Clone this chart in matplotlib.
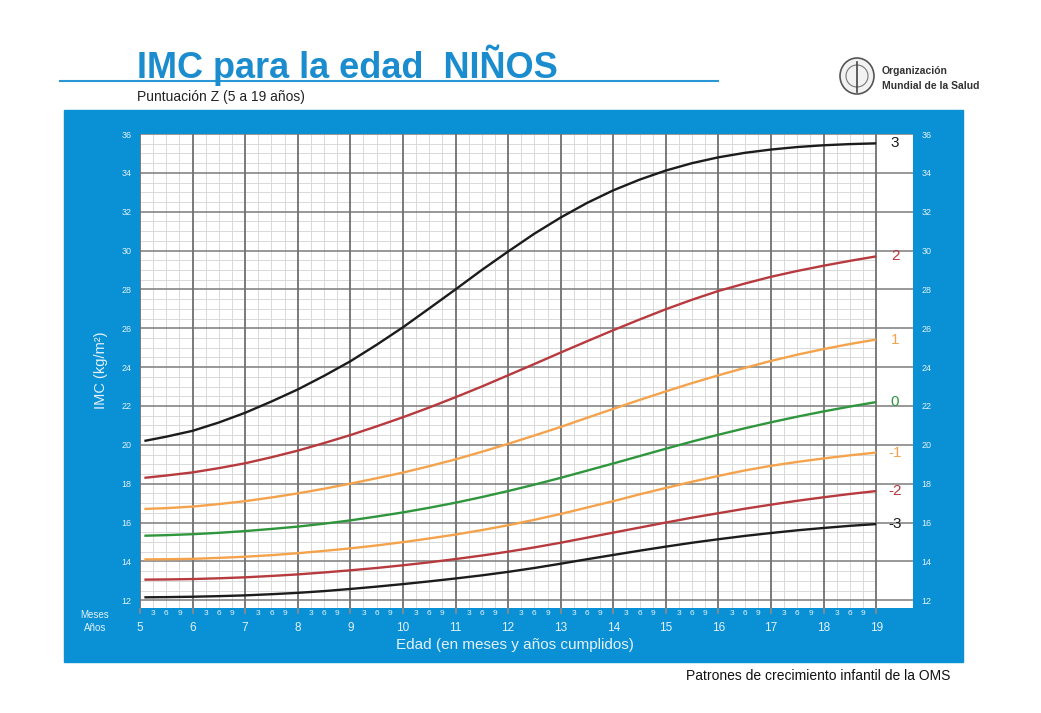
import matplotlib

matplotlib.use("Agg")
import matplotlib.pyplot as plt
import numpy as np
from matplotlib.patches import Rectangle, Ellipse
from matplotlib.lines import Line2D

plt.rcParams["font.family"] = ["Liberation Sans", "DejaVu Sans"]
NARROW = ["Liberation Sans Narrow", "Liberation Sans", "DejaVu Sans"]

# age in years (61 months, then every half year up to 19)
ages = [5 + 1 / 12] + [5.5 + 0.5 * i for i in range(28)]
sd3 = [20.20, 20.42, 20.72, 21.15, 21.65, 22.23, 22.85, 23.55, 24.30, 25.15,
       26.05, 27.02, 28.00, 29.00, 29.95, 30.87, 31.70, 32.45, 33.10, 33.65,
       34.12, 34.50, 34.80, 35.03, 35.20, 35.33, 35.42, 35.48, 35.52]
sd2 = [18.30, 18.42, 18.58, 18.80, 19.05, 19.36, 19.70, 20.09, 20.50, 20.95,
       21.42, 21.92, 22.45, 23.00, 23.58, 24.16, 24.75, 25.33, 25.90, 26.45,
       26.98, 27.47, 27.92, 28.30, 28.65, 28.95, 29.22, 29.47, 29.70]
sd1 = [16.70, 16.74, 16.82, 16.95, 17.10, 17.29, 17.50, 17.74, 18.00, 18.28,
       18.57, 18.90, 19.25, 19.64, 20.05, 20.48, 20.92, 21.39, 21.85, 22.31,
       22.75, 23.18, 23.58, 23.96, 24.32, 24.64, 24.93, 25.19, 25.42]
sd0 = [15.32, 15.35, 15.40, 15.47, 15.56, 15.67, 15.79, 15.94, 16.11, 16.31,
       16.52, 16.76, 17.02, 17.31, 17.62, 17.95, 18.30, 18.67, 19.04, 19.42,
       19.80, 20.17, 20.52, 20.85, 21.16, 21.45, 21.72, 21.97, 22.20]
sd1n = [14.10, 14.11, 14.13, 14.18, 14.24, 14.32, 14.42, 14.54, 14.67, 14.82,
        14.99, 15.18, 15.38, 15.61, 15.86, 16.14, 16.44, 16.77, 17.10, 17.45,
        17.78, 18.10, 18.40, 18.68, 18.92, 19.12, 19.30, 19.46, 19.60]
sd2n = [13.06, 13.07, 13.09, 13.13, 13.18, 13.25, 13.33, 13.43, 13.54, 13.66,
        13.80, 13.95, 14.12, 14.30, 14.50, 14.72, 14.96, 15.22, 15.48, 15.74,
        16.00, 16.25, 16.48, 16.71, 16.92, 17.12, 17.30, 17.47, 17.62]
sd3n = [12.15, 12.16, 12.18, 12.21, 12.25, 12.31, 12.38, 12.47, 12.58, 12.70,
        12.83, 12.97, 13.12, 13.28, 13.46, 13.66, 13.88, 14.11, 14.33, 14.55,
        14.76, 14.96, 15.14, 15.31, 15.46, 15.60, 15.72, 15.83, 15.92]

curve_labels = ["3", "2", "1", "0", "-1", "-2", "-3"]
years = list(range(5, 20))
month_labels = ["3", "6", "9"]
yticks = list(range(12, 37, 2))

BLUE = "#0a90d4"
BLACK, RED, ORANGE, GREEN = "#1c1c1c", "#b73a3e", "#f4a34c", "#2f963d"
colors = [BLACK, RED, ORANGE, GREEN, ORANGE, RED, BLACK]
LIGHT = "#e4f2fb"

fig = plt.figure(figsize=(10.41, 7.13), dpi=100)
W, H = 1041, 713


def fx(px):
    return px / W


def fy(py):
    return 1 - py / H


# blue frame
fig.patches.append(Rectangle((fx(64), fy(662)), fx(963 - 64), (662 - 110) / H,
                             transform=fig.transFigure, color=BLUE, zorder=-5))

ax = fig.add_axes([fx(140), fy(608), fx(913 - 140), (608 - 134) / H])
ax.set_zorder(2)
ax.set_facecolor("white")
ax.set_xlim(5, 19.7)
ax.set_ylim(11.6, 36)
for s in ax.spines.values():
    s.set_visible(False)

# grid: quarter years and half units (light), years and even units (dark)
quarters = [y + q / 4 for y in years[:-1] for q in (1, 2, 3)]
halves = np.arange(12, 36.01, 0.5)
ax.vlines(quarters, 11.6, 36, color="#d9d9d9", lw=0.7, zorder=1)
ax.hlines([h for h in halves if h % 2], 5, 19, color="#d9d9d9", lw=0.7, zorder=1)
ax.hlines(yticks, 5, 19.7, color="#7c7c7c", lw=1.1, zorder=2)
ax.vlines(years, 11.6, 36, color="#707070", lw=1.3, zorder=2)

series = [sd3, sd2, sd1, sd0, sd1n, sd2n, sd3n]
for vals, c, lab in zip(series, colors, curve_labels):
    ax.plot(ages, vals, color=c, lw=1.7, zorder=3, solid_capstyle="butt",
            solid_joinstyle="round")
    ax.text(19.36, vals[-1], lab, color=c, fontsize=11, ha="center",
            va="center", zorder=4)

# ticks
ax.set_xticks(years)
ax.set_xticklabels([str(y) for y in years])
ax.set_xticks(quarters, minor=True)
ax.set_xticklabels(month_labels * (len(years) - 1), minor=True)
ax.tick_params(axis="x", which="major", length=4, width=1.3, color="#8a8a8a",
               pad=6, labelsize=8.5, labelcolor=LIGHT)
ax.tick_params(axis="x", which="minor", length=0, pad=1.5, labelsize=6,
               labelcolor=LIGHT)
ax.set_yticks(yticks)
ax.tick_params(axis="y", length=0, labelsize=6.5, labelcolor=LIGHT,
               labelleft=True, labelright=True, pad=6)

fig.text(fx(95), fy(615), "Meses", color=LIGHT, fontsize=7, ha="center",
         va="center")
fig.text(fx(95), fy(628), "Años", color=LIGHT, fontsize=7, ha="center",
         va="center")
fig.text(fx(515), fy(645), "Edad (en meses y años cumplidos)", color=LIGHT,
         fontsize=11, ha="center", va="center")
fig.text(fx(101), fy(370), "IMC (kg/m²)", color=LIGHT, fontsize=10.5,
         rotation=90, ha="center", va="center")

# header
fig.text(fx(137), fy(65), "IMC para la edad  NIÑOS", color="#1b8dcf",
         fontsize=26, fontweight="bold", family=NARROW, ha="left", va="center")
fig.add_artist(Line2D([fx(60), fx(718)], [fy(81), fy(81)], color="#2a97d6",
                      lw=1.5, transform=fig.transFigure))
fig.text(fx(137), fy(97), "Puntuación Z (5 a 19 años)", color="#222222",
         fontsize=10, family=NARROW, ha="left", va="center")

# WHO emblem (simplified)
fig.add_artist(Ellipse((fx(857), fy(76)), 34 / W, 36 / H,
                       transform=fig.transFigure, facecolor="#f2f2f2",
                       edgecolor="#555555", lw=1.2))
fig.add_artist(Ellipse((fx(857), fy(76)), 22 / W, 22 / H,
                       transform=fig.transFigure, facecolor="none",
                       edgecolor="#777777", lw=0.8))
fig.add_artist(Line2D([fx(857), fx(857)], [fy(62), fy(92)], color="#444444",
                      lw=1.2, transform=fig.transFigure))
fig.text(fx(882), fy(71), "Organización", fontsize=7.5, fontweight="bold",
         family=NARROW, color="#333333", ha="left", va="center")
fig.text(fx(882), fy(86), "Mundial de la Salud", fontsize=7.5,
         fontweight="bold", family=NARROW, color="#333333", ha="left",
         va="center")

fig.text(fx(950), fy(676), "Patrones de crecimiento infantil de la OMS",
         fontsize=10, color="#111111", ha="right", va="center")

fig.savefig("out.png", dpi=100)
